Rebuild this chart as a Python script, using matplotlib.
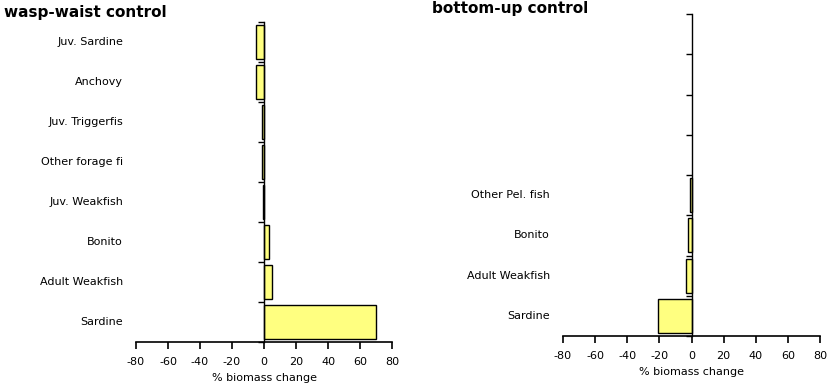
import matplotlib
matplotlib.use("Agg")
import matplotlib.pyplot as plt
import matplotlib.transforms as mtransforms
import numpy as np

plt.rcParams['font.family'] = ['DejaVu Sans']

left_title = "wasp-waist control"
left_categories = ["Juv. Sardine", "Anchovy", "Juv. Triggerfis", "Other forage fi",
                   "Juv. Weakfish", "Bonito", "Adult Weakfish", "Sardine"]
left_values = [-5, -5, -1.5, -1.5, -0.8, 3, 5, 70]

right_title = "bottom-up control"
right_categories = ["", "", "", "", "Other Pel. fish", "Bonito", "Adult Weakfish", "Sardine"]
right_values = [np.nan, np.nan, np.nan, np.nan, -1, -2, -3.5, -21]

xticks = [-80, -60, -40, -20, 0, 20, 40, 60, 80]
xlabel = "% biomass change"

W, H = 830, 385
fig = plt.figure(figsize=(W / 100, H / 100), dpi=100)

def px_axes(x0, x1, ytop, ybot):
    return fig.add_axes([x0 / W, (H - ybot) / H, (x1 - x0) / W, (ybot - ytop) / H])

def draw(ax, cats, vals, title, title_xy):
    n = len(cats)
    y = np.arange(n)
    v = np.array(vals, dtype=float)
    mask = ~np.isnan(v)
    ax.barh(y[mask], v[mask], height=0.85, color="#FFFF80", edgecolor="black", linewidth=1.0)
    ax.set_xlim(-80, 80)
    ax.set_ylim(n - 0.5, -0.5)
    for s in ["top", "right"]:
        ax.spines[s].set_visible(False)
    ax.spines["left"].set_position(("data", 0))
    ax.spines["left"].set_linewidth(1.0)
    ax.spines["bottom"].set_linewidth(1.2)
    ax.set_yticks(np.arange(n + 1) - 0.5)
    ax.set_yticklabels([])
    ax.tick_params(axis="y", direction="out", length=4, width=1)
    ax.set_xticks(xticks)
    ax.set_xticklabels([str(t) for t in xticks], fontsize=8)
    ax.tick_params(axis="x", direction="out", length=5, width=1.2, pad=6)
    ax.set_xlabel(xlabel, fontsize=8, labelpad=4)
    trans = mtransforms.blended_transform_factory(ax.transAxes, ax.transData)
    for yi, c in zip(y, cats):
        if c:
            ax.text(-13 / 256, yi, c, transform=trans, ha="right", va="center", fontsize=8)
    fig.text(title_xy[0] / W, 1 - title_xy[1] / H, title, fontsize=11, fontweight="bold",
             ha="left", va="center")

ax1 = px_axes(136, 392, 22, 342)
draw(ax1, left_categories, left_values, left_title, (4, 12))
ax2 = px_axes(563, 820, 14, 336)
draw(ax2, right_categories, right_values, right_title, (432, 8))

fig.savefig("out.png", dpi=100)
